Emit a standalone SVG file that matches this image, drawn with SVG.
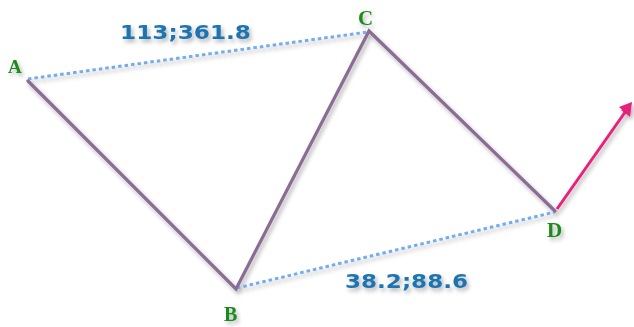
<svg xmlns="http://www.w3.org/2000/svg" width="634" height="327" viewBox="0 0 634 327">
<style>
.leg{stroke:#8a6c94;stroke-width:3.2;fill:none;stroke-linecap:round}
.dot{stroke:#74acec;stroke-width:3;stroke-dasharray:3.5 3;fill:none}
.pt{font-family:"Liberation Serif",serif;font-weight:bold;fill:#1a8a1a}
.num{font-family:"DejaVu Sans",sans-serif;font-weight:bold;font-size:20px;fill:#1f74b0}
</style>
<defs>
<filter id="sh" x="-20%" y="-20%" width="140%" height="160%">
<feDropShadow dx="2" dy="3" stdDeviation="2" flood-color="#000" flood-opacity="0.3"/>
</filter>
<marker id="ah" markerWidth="8" markerHeight="8" refX="6" refY="4" orient="auto" markerUnits="userSpaceOnUse">
<path d="M0,0 L8,4 L0,8 Z" fill="#e8207a"/>
</marker>
</defs>
<g id="connectors" filter="url(#sh)">
<line class="dot" x1="28" y1="79" x2="368" y2="32"/>
<line class="dot" x1="237" y1="288" x2="555" y2="212"/>
<polyline class="leg" points="28,81 236,289 369,31 555,211"/>
<line x1="557" y1="209" x2="628" y2="108" stroke="#e8207a" stroke-width="3" marker-end="url(#ah)"/>
<path d="M619,107 L632,102 L630,117 Z" fill="#e8207a"/>
</g>
<g id="A" filter="url(#sh)"><text class="pt" x="8" y="73" font-size="19">A</text></g>
<g id="C" filter="url(#sh)"><text class="pt" x="358" y="25" font-size="21">C</text></g>
<g id="B" filter="url(#sh)"><text class="pt" x="224" y="321" font-size="20">B</text></g>
<g id="D" filter="url(#sh)"><text class="pt" x="547" y="237" font-size="21">D</text></g>
<g id="label1" filter="url(#sh)"><text class="num" x="120" y="39" textLength="131" lengthAdjust="spacingAndGlyphs">113;361.8</text></g>
<g id="label2" filter="url(#sh)"><text class="num" x="345" y="288" textLength="123" lengthAdjust="spacingAndGlyphs">38.2;88.6</text></g>
</svg>
